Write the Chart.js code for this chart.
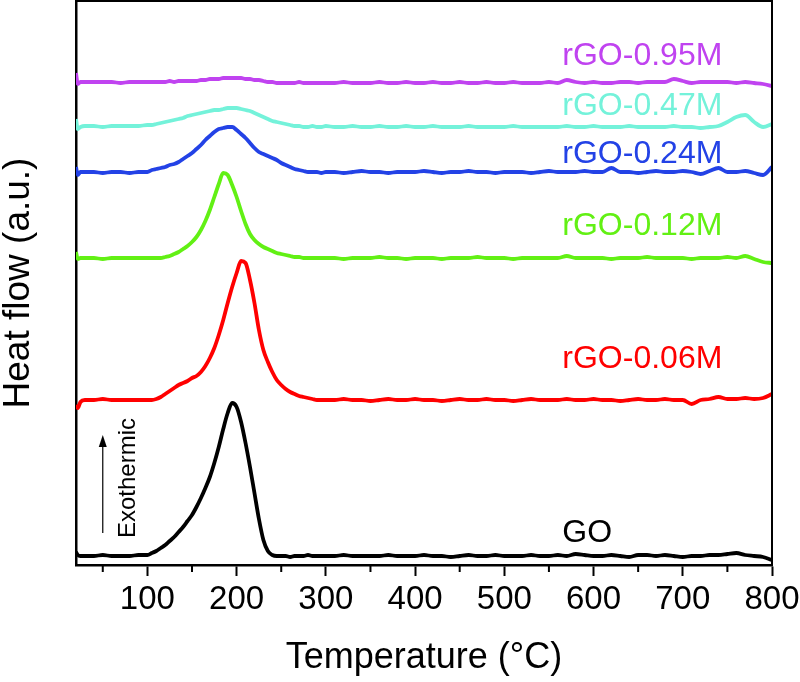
<!DOCTYPE html>
<html>
<head>
<meta charset="utf-8">
<script src="https://cdn.jsdelivr.net/npm/chart.js@4.4.0/dist/chart.umd.min.js"></script>
<style>
	html, body { margin: 0; padding: 0; background: #fff; }
	canvas { display: block; }
</style>
</head>
<body>
<canvas id="dsc" width="800" height="682"></canvas>
<script>
// temperature grid (°C), denser around the exothermic peaks
var temperature = [
	20, 22, 25, 30, 40, 50, 60, 70, 80, 90,
	100, 105, 110, 115, 120, 125, 130, 135, 140, 145,
	150, 155, 160, 165, 170, 175, 180, 185, 190, 195,
	200, 205, 210, 215, 220, 225, 230, 235, 240, 245,
	250, 255, 260, 265, 270, 275, 280, 285, 290, 295,
	300, 310, 320, 330, 340, 350, 360, 370, 380, 390,
	400, 410, 420, 430, 440, 450, 460, 470, 480, 490,
	500, 510, 520, 530, 540, 550, 560, 570, 580, 590,
	600, 610, 620, 630, 640, 650, 660, 670, 680, 690,
	700, 710, 720, 730, 740, 750, 760, 770, 780, 790,
	800
]

// heat flow (a.u., curves already offset)
var flowGO = [
	13, 10, 9, 9, 9, 10, 9, 9, 9, 10,
	10, 12, 14, 17, 20, 24, 28, 33, 38, 44,
	50, 58, 67, 77, 88, 102, 118, 136, 152, 162,
	158, 143, 122, 98, 72, 46, 25, 14, 10, 9,
	9, 9, 8, 9, 9, 9, 10, 9, 9, 9,
	9, 9, 10, 9, 9, 9, 9, 10, 9, 9,
	9, 10, 9, 9, 8, 9, 10, 9, 9, 10,
	9, 9, 9, 10, 9, 9, 10, 9, 11, 10,
	9, 9, 10, 9, 8, 10, 10, 9, 10, 9,
	8, 9, 9, 10, 10, 11, 12, 10, 9, 8,
	5
]
var flow006 = [
	160, 157, 163, 165, 165, 166, 165, 165, 165, 165,
	165, 165, 166, 168, 171, 174, 177, 180, 182, 184,
	187, 189, 193, 199, 207, 217, 230, 245, 262, 278,
	292, 304, 302, 285, 262, 235, 215, 203, 193, 185,
	180, 176, 173, 171, 169, 168, 167, 166, 165, 165,
	165, 165, 166, 165, 165, 164, 165, 166, 165, 165,
	166, 165, 165, 164, 165, 166, 165, 165, 166, 165,
	165, 164, 165, 166, 165, 165, 165, 166, 165, 165,
	166, 165, 165, 164, 165, 166, 165, 165, 166, 165,
	165, 161, 165, 166, 168, 166, 166, 167, 166, 167,
	171
]
var flow012 = [
	313, 306, 307, 307, 307, 306, 307, 307, 307, 307,
	307, 307, 307, 307, 308, 309, 311, 313, 316, 319,
	323, 328, 335, 344, 355, 368, 381, 392, 390, 380,
	368, 354, 341, 331, 325, 321, 318, 316, 314, 312,
	311, 310, 309, 308, 308, 307, 307, 307, 307, 307,
	307, 307, 306, 307, 307, 307, 308, 307, 307, 306,
	307, 307, 307, 306, 307, 307, 307, 308, 307, 307,
	307, 306, 307, 307, 307, 307, 307, 309, 307, 307,
	307, 307, 306, 307, 307, 307, 308, 307, 307, 307,
	307, 306, 307, 307, 307, 308, 307, 309, 306, 303,
	302
]
var flow024 = [
	398, 390, 393, 393, 393, 392, 393, 393, 392, 393,
	393, 395, 396, 397, 398, 400, 401, 403, 406, 409,
	412, 416, 420, 425, 429, 433, 436, 437, 438, 438,
	435, 431, 427, 422, 417, 413, 411, 409, 407, 405,
	402, 400, 398, 396, 395, 394, 393, 393, 393, 392,
	393, 393, 392, 393, 394, 393, 393, 392, 393, 393,
	393, 394, 393, 392, 393, 393, 394, 393, 393, 392,
	393, 393, 393, 392, 393, 394, 393, 393, 393, 394,
	393, 393, 397, 393, 393, 392, 393, 394, 393, 393,
	394, 393, 391, 394, 397, 393, 393, 394, 392, 390,
	398
]
var flow047 = [
	446, 436, 438, 439, 439, 438, 439, 439, 439, 439,
	440, 440, 441, 442, 443, 444, 445, 446, 447, 449,
	450, 451, 452, 453, 454, 455, 455, 456, 457, 457,
	457, 456, 455, 454, 452, 450, 448, 446, 444, 443,
	442, 441, 440, 439, 439, 438, 438, 439, 438, 438,
	439, 438, 438, 439, 438, 438, 439, 438, 438, 439,
	438, 438, 439, 438, 438, 438, 439, 438, 438, 438,
	438, 439, 438, 438, 438, 438, 438, 439, 438, 438,
	439, 438, 438, 438, 439, 438, 438, 438, 438, 439,
	438, 438, 437, 438, 439, 443, 448, 450, 443, 438,
	441
]
var flow095 = [
	492, 481, 483, 483, 483, 483, 483, 482, 483, 483,
	483, 483, 483, 483, 483, 484, 483, 484, 484, 484,
	484, 484, 485, 485, 486, 486, 486, 487, 487, 487,
	487, 487, 486, 486, 485, 485, 484, 483, 483, 482,
	482, 482, 482, 482, 483, 482, 482, 482, 482, 482,
	482, 482, 483, 482, 482, 482, 483, 482, 482, 483,
	482, 482, 483, 482, 482, 483, 482, 482, 483, 482,
	482, 483, 482, 482, 482, 483, 482, 485, 483, 482,
	483, 482, 482, 483, 483, 482, 483, 483, 483, 486,
	484, 482, 483, 483, 483, 483, 482, 483, 482, 481,
	479
]

var seriesNames = ['GO', 'rGO-0.06M', 'rGO-0.12M', 'rGO-0.24M', 'rGO-0.47M', 'rGO-0.95M']
var seriesColors = ['#000000', '#ff0000', '#62f014', '#2342e6', '#74f2da', '#c043f0']
var labelFlow = [23, 197, 330, 402, 450, 500]
var labelTemp = 565
var majorTicks = [100, 200, 300, 400, 500, 600, 700, 800]
var minorTicks = [50, 150, 250, 350, 450, 550, 650, 750]

var allFlows = [flowGO, flow006, flow012, flow024, flow047, flow095]
var FONT = '"Liberation Sans", Arial, sans-serif'

var annotate = {
	id: 'annotate',
	afterDraw (chart) {
		var ctx = chart.ctx
		var a = chart.chartArea
		var xs = chart.scales.x
		var ys = chart.scales.y
		ctx.save()
		ctx.strokeStyle = '#000'
		ctx.lineWidth = 2
		ctx.beginPath()
		ctx.moveTo(a.left, a.top)
		ctx.lineTo(a.right, a.top)
		ctx.lineTo(a.right, a.bottom)
		ctx.stroke()

		// minor ticks
		ctx.beginPath()
		minorTicks.forEach(v => {
			var px = xs.getPixelForValue(v)
			ctx.moveTo(px, a.bottom)
			ctx.lineTo(px, a.bottom + 7)
		})
		ctx.stroke()

		// curve labels
		ctx.font = '32px ' + FONT
		ctx.textAlign = 'left'
		ctx.textBaseline = 'alphabetic'
		seriesNames.forEach((n, i) => {
			ctx.fillStyle = seriesColors[i]
			ctx.fillText(n, xs.getPixelForValue(labelTemp), ys.getPixelForValue(labelFlow[i]))
		})

		// exothermic arrow
		var ax = xs.getPixelForValue(50)
		var y0 = ys.getPixelForValue(32)
		var y1 = ys.getPixelForValue(130)
		ctx.lineWidth = 1.2
		ctx.beginPath()
		ctx.moveTo(ax, y0)
		ctx.lineTo(ax, y1 + 10)
		ctx.stroke()
		ctx.fillStyle = '#000'
		ctx.beginPath()
		ctx.moveTo(ax, y1)
		ctx.lineTo(ax - 4, y1 + 12)
		ctx.lineTo(ax + 4, y1 + 12)
		ctx.closePath()
		ctx.fill()

		ctx.translate(xs.getPixelForValue(86), ys.getPixelForValue(87))
		ctx.rotate(-Math.PI / 2)
		ctx.font = '24px ' + FONT
		ctx.textAlign = 'center'
		ctx.fillText('Exothermic', 0, 0)
		ctx.restore()
	}
}

new Chart(document.getElementById('dsc'), {
	type: 'line',
	data: {
		datasets: allFlows.map((f, i) => ({
			label: seriesNames[i],
			data: temperature.map((t, j) => ({ x: t, y: f[j] })),
			borderColor: seriesColors[i],
			borderWidth: 3.8,
			pointRadius: 0,
			fill: false,
			cubicInterpolationMode: 'monotone'
		}))
	},
	options: {
		responsive: false,
		animation: false,
		devicePixelRatio: 1,
		layout: { padding: { top: 1, right: 28, left: 0, bottom: 0 } },
		plugins: {
			legend: { display: false },
			tooltip: { enabled: false }
		},
		scales: {
			x: {
				type: 'linear',
				min: 20,
				max: 800,
				afterBuildTicks: scale => {
					scale.ticks = majorTicks.map(v => ({ value: v }))
				},
				afterFit: scale => {
					scale.height = 117
					scale.paddingLeft = 0
					scale.paddingRight = 0
				},
				grid: { drawOnChartArea: false, tickLength: 11, tickWidth: 2, tickColor: '#000' },
				border: { color: '#000', width: 2.5 },
				ticks: { color: '#000', padding: 4, maxRotation: 0, font: { family: FONT, size: 33 } },
				title: {
					display: true,
					text: 'Temperature (°C)',
					color: '#000',
					font: { family: FONT, size: 36 },
					padding: { top: 0, bottom: 2 }
				}
			},
			y: {
				min: 0,
				max: 564,
				afterFit: scale => { scale.width = 76 },
				grid: { display: false },
				border: { color: '#000', width: 2.5 },
				ticks: { display: false },
				title: {
					display: true,
					text: 'Heat flow (a.u.)',
					color: '#000',
					font: { family: FONT, size: 37, lineHeight: 1 },
					padding: 0
				}
			}
		}
	},
	plugins: [annotate]
})
</script>
</body>
</html>
